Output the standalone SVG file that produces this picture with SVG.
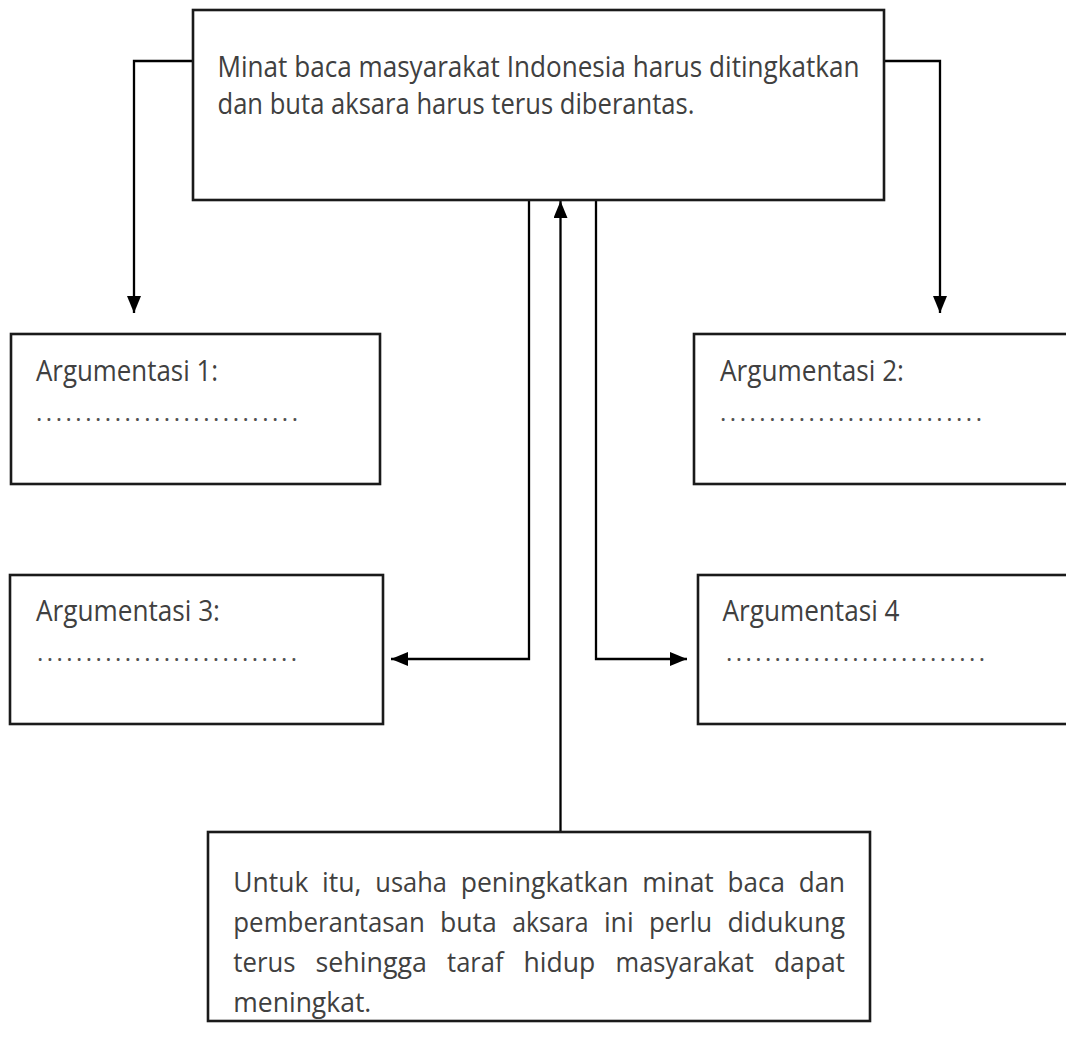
<svg xmlns="http://www.w3.org/2000/svg" width="1066" height="1050" viewBox="0 0 1066 1050">
  <style>
    .box { fill: #ffffff; stroke: #1a1a1a; stroke-width: 2.6; }
    .wire { fill: none; stroke: #000000; stroke-width: 2.3; }
    .t { font-family: "Open Sans", "Noto Sans", "Liberation Sans", sans-serif; font-size: 29px; fill: #404040; }
    .para { font-family: "Open Sans", "Noto Sans", "Liberation Sans", sans-serif; font-size: 27px; fill: #404040; }
    .dots { font-family: "Open Sans", "Noto Sans", "Liberation Sans", sans-serif; font-size: 24px; fill: #505050; }
  </style>
  <defs>
    <marker id="head" markerUnits="userSpaceOnUse" markerWidth="18" markerHeight="14" refX="17" refY="7" orient="auto">
      <path d="M0,0 L17,7 L0,14 Z" fill="#000000"/>
    </marker>
  </defs>

  <rect width="1066" height="1050" fill="#ffffff"/>

  <!-- connectors -->
  <g id="connectors">
    <path class="wire" d="M193,61 H134 V313" marker-end="url(#head)"/>
    <path class="wire" d="M884,61 H940 V313" marker-end="url(#head)"/>
    <path class="wire" d="M529,200 V659 H391" marker-end="url(#head)"/>
    <path class="wire" d="M596,200 V659 H687" marker-end="url(#head)"/>
    <path class="wire" d="M560.5,832 V201" marker-end="url(#head)"/>
  </g>

  <!-- main statement -->
  <g id="thesis">
    <rect class="box" x="193" y="10" width="691" height="190"/>
    <text class="t" x="217.5" y="77" textLength="642" lengthAdjust="spacingAndGlyphs">Minat baca masyarakat Indonesia harus ditingkatkan</text>
    <text class="t" x="217.5" y="114" textLength="477" lengthAdjust="spacingAndGlyphs">dan buta aksara harus terus diberantas.</text>
  </g>

  <g id="arg1">
    <rect class="box" x="11" y="334" width="369" height="150"/>
    <text class="t" x="36" y="381" textLength="182" lengthAdjust="spacingAndGlyphs">Argumentasi 1:</text>
    <text class="dots" x="36" y="421" textLength="262" lengthAdjust="spacing">...........................</text>
  </g>

  <g id="arg2">
    <rect class="box" x="694" y="334" width="390" height="150"/>
    <text class="t" x="720" y="381" textLength="184" lengthAdjust="spacingAndGlyphs">Argumentasi 2:</text>
    <text class="dots" x="720" y="421" textLength="262" lengthAdjust="spacing">...........................</text>
  </g>

  <g id="arg3">
    <rect class="box" x="10" y="575" width="373" height="149"/>
    <text class="t" x="36" y="621" textLength="184" lengthAdjust="spacingAndGlyphs">Argumentasi 3:</text>
    <text class="dots" x="37" y="661" textLength="260" lengthAdjust="spacing">...........................</text>
  </g>

  <g id="arg4">
    <rect class="box" x="698" y="575" width="390" height="149"/>
    <text class="t" x="722.5" y="621" textLength="177" lengthAdjust="spacingAndGlyphs">Argumentasi 4</text>
    <text class="dots" x="726" y="661" textLength="259" lengthAdjust="spacing">...........................</text>
  </g>

  <!-- conclusion, justified paragraph: one text per word so the gaps stay even -->
  <g id="conclusion">
    <rect class="box" x="208" y="832" width="662" height="189"/>
    <g class="para">
      <text x="233.3" y="891.5" textLength="75" lengthAdjust="spacingAndGlyphs">Untuk</text>
      <text x="322.1" y="891.5" textLength="39.4" lengthAdjust="spacingAndGlyphs">itu,</text>
      <text x="375.3" y="891.5" textLength="71.6" lengthAdjust="spacingAndGlyphs">usaha</text>
      <text x="460.7" y="891.5" textLength="167.8" lengthAdjust="spacingAndGlyphs">peningkatkan</text>
      <text x="642.3" y="891.5" textLength="71.5" lengthAdjust="spacingAndGlyphs">minat</text>
      <text x="727.6" y="891.5" textLength="57.3" lengthAdjust="spacingAndGlyphs">baca</text>
      <text x="798.7" y="891.5" textLength="46.4" lengthAdjust="spacingAndGlyphs">dan</text>

      <text x="233.3" y="931.5" textLength="191.5" lengthAdjust="spacingAndGlyphs">pemberantasan</text>
      <text x="440" y="931.5" textLength="56.9" lengthAdjust="spacingAndGlyphs">buta</text>
      <text x="512.2" y="931.5" textLength="76.5" lengthAdjust="spacingAndGlyphs">aksara</text>
      <text x="603.9" y="931.5" textLength="29.7" lengthAdjust="spacingAndGlyphs">ini</text>
      <text x="648.9" y="931.5" textLength="63.3" lengthAdjust="spacingAndGlyphs">perlu</text>
      <text x="727.4" y="931.5" textLength="117.6" lengthAdjust="spacingAndGlyphs">didukung</text>

      <text x="233.3" y="971.5" textLength="62.1" lengthAdjust="spacingAndGlyphs">terus</text>
      <text x="315.5" y="971.5" textLength="111.4" lengthAdjust="spacingAndGlyphs">sehingga</text>
      <text x="447.1" y="971.5" textLength="56.4" lengthAdjust="spacingAndGlyphs">taraf</text>
      <text x="523.6" y="971.5" textLength="71.7" lengthAdjust="spacingAndGlyphs">hidup</text>
      <text x="615.5" y="971.5" textLength="138.3" lengthAdjust="spacingAndGlyphs">masyarakat</text>
      <text x="773.9" y="971.5" textLength="71.1" lengthAdjust="spacingAndGlyphs">dapat</text>

      <text x="233.3" y="1011.5" textLength="138" lengthAdjust="spacingAndGlyphs">meningkat.</text>
    </g>
  </g>
</svg>
